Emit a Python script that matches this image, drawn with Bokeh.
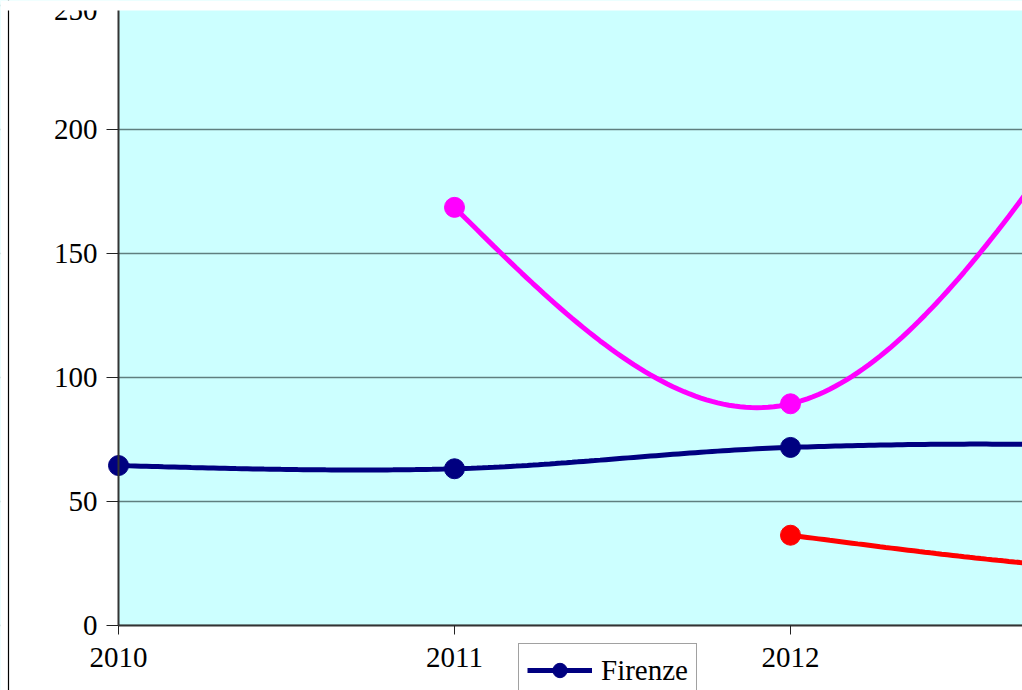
from bokeh.plotting import figure
from bokeh.models import (Range1d, FixedTicker, Legend, LegendItem, BoxAnnotation, Span)
from bokeh.embed import file_html
from bokeh.resources import INLINE

# ---- data ----
firenze_years = [2010, 2011, 2012, 2013, 2014]
firenze_values = [64.5, 63.2, 71.8, 72.0, 61.0]

magenta_years = [2011, 2012, 2013]
magenta_values = [168.6, 89.4, 232.0]

red_years = [2012, 2013, 2014]
red_values = [36.4, 22.0, 20.4]

x_ticks = [2010, 2011, 2012, 2013, 2014]
y_ticks = [0, 50, 100, 150, 200, 250]

FONT = "Liberation Serif"
FS = "29px"

# ---- geometry (pixels) ----
W, H = 1022, 690
AXIS_X_PX = 118        # y axis position from figure left
AXIS_Y_PX = 625        # x axis position from figure top
EDGE_X_PX = 8          # chart frame line on the left
TOP_CUT_PX = 10        # everything above this is cut away
PX_PER_YEAR = 336.0
PX_PER_UNIT = 2.48
X0 = x_ticks[0]

x_start = X0 - AXIS_X_PX / PX_PER_YEAR
x_end = X0 + (W - AXIS_X_PX) / PX_PER_YEAR
y_start = -(H - AXIS_Y_PX) / PX_PER_UNIT
y_end = AXIS_Y_PX / PX_PER_UNIT
x_edge = x_start + EDGE_X_PX / PX_PER_YEAR
y_cut = (AXIS_Y_PX - TOP_CUT_PX) / PX_PER_UNIT


def smooth(xs, ys, n=60):
    """Hermite spline through the points, Catmull-Rom tangents, natural ends."""
    k = len(xs)
    if k < 2:
        return list(xs), list(ys)
    m = [0.0] * k
    for i in range(1, k - 1):
        m[i] = (ys[i + 1] - ys[i - 1]) / 2.0
    if k == 2:
        m[0] = m[1] = ys[1] - ys[0]
    else:
        m[0] = (3 * (ys[1] - ys[0]) - m[1]) / 2.0
        m[-1] = (3 * (ys[-1] - ys[-2]) - m[-2]) / 2.0
    ox, oy = [], []
    for i in range(k - 1):
        x0, x1 = xs[i], xs[i + 1]
        for j in range(n + (1 if i == k - 2 else 0)):
            t = j / n
            h00 = 2 * t**3 - 3 * t**2 + 1
            h10 = t**3 - 2 * t**2 + t
            h01 = -2 * t**3 + 3 * t**2
            h11 = t**3 - t**2
            ox.append(x0 + (x1 - x0) * t)
            oy.append(h00 * ys[i] + h10 * m[i] + h01 * ys[i + 1] + h11 * m[i + 1])
    return ox, oy


p = figure(width=W, height=H, output_backend="svg", toolbar_location=None,
           x_range=Range1d(x_start, x_end), y_range=Range1d(y_start, y_end),
           min_border_left=0, min_border_right=0, min_border_top=0,
           min_border_bottom=0,
           background_fill_color="#CCFFFF", border_fill_color="white",
           outline_line_color=None)

p.xgrid.grid_line_color = None
p.ygrid.grid_line_color = "#5f7f7f"
p.ygrid.grid_line_width = 1.5

# white areas outside the plotting area (left of the y axis, below the x axis)
p.add_layout(BoxAnnotation(right=X0, fill_color="white", fill_alpha=1.0,
                           line_color=None, level="underlay"))
p.add_layout(BoxAnnotation(top=0, fill_color="white", fill_alpha=1.0,
                           line_color=None, level="underlay"))

for ax in (p.xaxis, p.yaxis):
    ax.axis_line_color = "#333333"
    ax.axis_line_width = 2
    ax.major_tick_line_color = "#222222"
    ax.major_tick_in = 0
    ax.minor_tick_line_color = None
    ax.major_label_text_font = FONT
    ax.major_label_text_font_size = FS
    ax.major_label_text_color = "black"

p.xaxis.fixed_location = 0
p.yaxis.fixed_location = X0
p.xaxis.bounds = (X0, x_end)
p.yaxis.bounds = (0, y_ticks[-1])
p.xaxis.ticker = FixedTicker(ticks=x_ticks)
p.yaxis.ticker = FixedTicker(ticks=y_ticks)
p.xaxis.major_tick_out = 9
p.xaxis.major_label_standoff = 13
p.yaxis.major_tick_out = 12
p.yaxis.major_label_standoff = 9

series = [
    (firenze_years, firenze_values, "#000080"),
    (magenta_years, magenta_values, "#FF00FF"),
    (red_years, red_values, "#FF0000"),
]
renderers = []
for xs, ys, col in series:
    sx, sy = smooth(xs, ys)
    ln = p.line(sx, sy, line_color=col, line_width=5)
    sc = p.scatter(xs, ys, marker="circle", size=20, fill_color=col, line_color=col)
    renderers.append((ln, sc))

# frame line on the left edge of the chart
p.add_layout(Span(location=x_edge, dimension="height", line_color="black",
                  line_width=1.2))
# the chart is cut at the top
p.add_layout(BoxAnnotation(bottom=y_cut, fill_color="white", fill_alpha=1.0,
                           line_color=None, level="annotation"))

legend = Legend(items=[LegendItem(label="Firenze", renderers=list(renderers[0]))],
                location=(518, -7), orientation="vertical",
                label_text_font=FONT, label_text_font_size=FS,
                label_text_color="black",
                glyph_width=65, glyph_height=36, label_standoff=9,
                padding=8, spacing=0, margin=0,
                border_line_color="#444444", border_line_width=1,
                background_fill_color="white", background_fill_alpha=1.0)
p.add_layout(legend)

open("out.html", "w").write(file_html(p, INLINE))
